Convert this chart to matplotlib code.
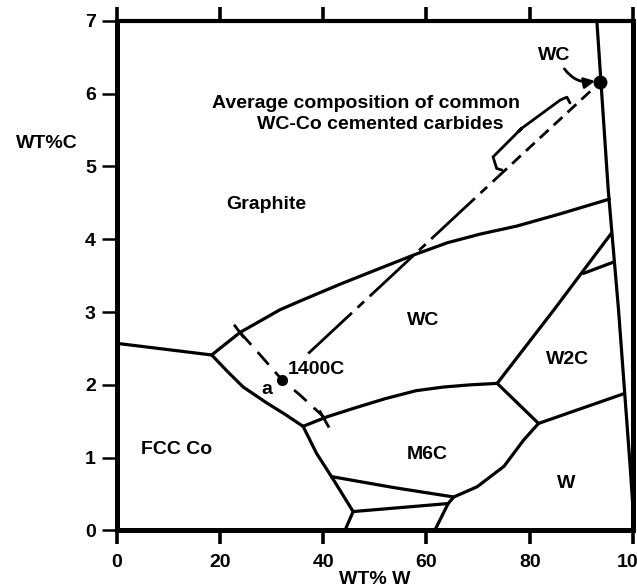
import matplotlib
matplotlib.use("Agg")
import matplotlib.pyplot as plt

plt.rcParams['font.family'] = ['Liberation Sans', 'DejaVu Sans']
plt.rcParams['font.weight'] = 'bold'
plt.rcParams['axes.labelweight'] = 'bold'
plt.rcParams['lines.scale_dashes'] = False

#------ Phase boundaries (wt% W, wt% C) ------#
co_gr_x = [0, 18.4]
co_gr_y = [2.57, 2.41]

gr_wc_x = [18.4, 23.9, 31.6, 35.5, 43.2, 51.0, 57.8, 64.0, 70.4, 77.5, 86.0, 95.4]
gr_wc_y = [2.41, 2.72, 3.03, 3.15, 3.38, 3.60, 3.79, 3.95, 4.07, 4.18, 4.35, 4.55]

co_wc_x = [18.4, 21.5, 24.5, 29.1, 32.5, 36.1]
co_wc_y = [2.41, 2.18, 1.97, 1.75, 1.60, 1.43]

wc_m6c_x = [36.1, 40.7, 46.0, 52.0, 58.0, 63.3, 68.5, 73.7]
wc_m6c_y = [1.43, 1.56, 1.68, 1.81, 1.92, 1.97, 2.00, 2.02]

wc_w2c_x = [73.7, 84.9, 95.8]
wc_w2c_y = [2.02, 3.05, 4.08]

w2c_branch_x = [90.4, 96.4]
w2c_branch_y = [3.53, 3.69]

m6c_w2c_x = [73.7, 81.7]
m6c_w2c_y = [2.02, 1.47]

w2c_w_x = [81.7, 98.3]
w2c_w_y = [1.47, 1.88]

m6c_w_x = [81.7, 78.8, 75.0, 69.8, 65.3, 64.2, 61.6]
m6c_w_y = [1.47, 1.24, 0.88, 0.60, 0.46, 0.37, 0.0]

co_m6c_x = [36.1, 38.7, 41.6]
co_m6c_y = [1.43, 1.06, 0.74]

m6c_low_x = [41.6, 53.6, 65.3]
m6c_low_y = [0.74, 0.59, 0.46]

low_left_x = [41.6, 45.8, 44.2]
low_left_y = [0.74, 0.26, 0.0]

low_mid_x = [45.8, 64.2]
low_mid_y = [0.26, 0.37]

wc_edge_x = [93.0, 95.2, 97.2, 99.5, 100.0]
wc_edge_y = [7.0, 4.68, 3.03, 0.83, 0.3]

#------ Composition line and 1400C tie line ------#
comp_x = [37.1, 73.9, 93.7]
comp_y = [2.43, 4.86, 6.16]

tie_x = [23.9, 27.8, 32.0, 35.5, 40.7]
tie_y = [2.72, 2.41, 2.07, 1.86, 1.52]
tie_marks = [([22.9, 24.5], [2.81, 2.66]), ([39.4, 41.0], [1.63, 1.43])]

brace_x = [74.6, 73.6, 72.9, 78.4, 77.8, 78.4, 85.9, 87.2, 87.8]
brace_y = [4.95, 4.97, 5.13, 5.52, 5.48, 5.52, 5.91, 5.95, 5.87]

regions = [("Graphite", 28.9, 4.48), ("WC", 59.3, 2.89), ("W2C", 87.4, 2.35),
           ("FCC Co", 11.6, 1.11), ("M6C", 60.1, 1.04), ("W", 87.0, 0.65)]

x_ticks = [0, 20, 40, 60, 80, 100]
y_ticks = [0, 1, 2, 3, 4, 5, 6, 7]

fig = plt.figure(figsize=(6.37, 5.88), dpi=100)
ax = fig.add_axes([0.1832, 0.0978, 0.8105, 0.867])

boundaries = [(co_gr_x, co_gr_y), (gr_wc_x, gr_wc_y), (co_wc_x, co_wc_y),
              (wc_m6c_x, wc_m6c_y), (wc_w2c_x, wc_w2c_y), (w2c_branch_x, w2c_branch_y),
              (m6c_w2c_x, m6c_w2c_y), (w2c_w_x, w2c_w_y), (m6c_w_x, m6c_w_y),
              (co_m6c_x, co_m6c_y), (m6c_low_x, m6c_low_y), (low_left_x, low_left_y),
              (low_mid_x, low_mid_y), (wc_edge_x, wc_edge_y)]
for bx, by in boundaries:
    ax.plot(bx, by, color='k', lw=2.3, solid_joinstyle='round', solid_capstyle='round')

# composition line: long-short dashes below, short dashes near WC
ax.plot(comp_x[:2], comp_y[:2], color='k', lw=2.0, linestyle=(0, (43, 5.5, 6.5, 5.5)))
ax.plot(comp_x[1:], comp_y[1:], color='k', lw=2.0, linestyle=(0, (8.6, 5)))
ax.plot(comp_x[-1], comp_y[-1], 'ko', ms=9)

# tie line through point a at 1400C
ax.plot(tie_x, tie_y, color='k', lw=2.0, linestyle=(0, (12, 7)))
for mx, my in tie_marks:
    ax.plot(mx, my, color='k', lw=2.0)
ax.plot(tie_x[2], tie_y[2], 'ko', ms=7)

ax.plot(brace_x, brace_y, color='k', lw=2.0, solid_joinstyle='round', solid_capstyle='round')

for name, tx, ty in regions:
    ax.text(tx, ty, name, fontsize=14, ha='center', va='center')

ax.text(33.2, 2.21, "1400C", fontsize=14, ha='left', va='center')
ax.text(29.0, 1.94, "a", fontsize=14, ha='center', va='center')
ax.text(18.4, 5.86, "Average composition of common", fontsize=14, ha='left', va='center')
ax.text(27.1, 5.57, "WC-Co cemented carbides", fontsize=14, ha='left', va='center')
ax.text(84.7, 6.52, "WC", fontsize=14, ha='center', va='center')
ax.annotate('', xy=(93.2, 6.18), xytext=(86.4, 6.37),
            arrowprops=dict(arrowstyle='-|>', connectionstyle='arc3,rad=0.35',
                            lw=2.0, color='k', mutation_scale=16))

ax.set_xlim(0, 100)
ax.set_ylim(0, 7)
ax.set_xticks(x_ticks)
ax.set_yticks(y_ticks)
ax.tick_params(axis='x', direction='out', length=10, width=2.6, top=True,
               labelsize=14, pad=7)
ax.tick_params(axis='y', direction='out', length=11, width=1.8, labelsize=14, pad=4)
for side in ['left', 'bottom', 'right']:
    ax.spines[side].set_linewidth(3.6)
ax.spines['top'].set_linewidth(3.0)

ax.set_xlabel("WT% W", fontsize=14, fontweight='bold', labelpad=0)
fig.text(0.0733, 0.7568, "WT%C", fontsize=14, ha='center', va='center')

fig.savefig("out.png", dpi=100)
